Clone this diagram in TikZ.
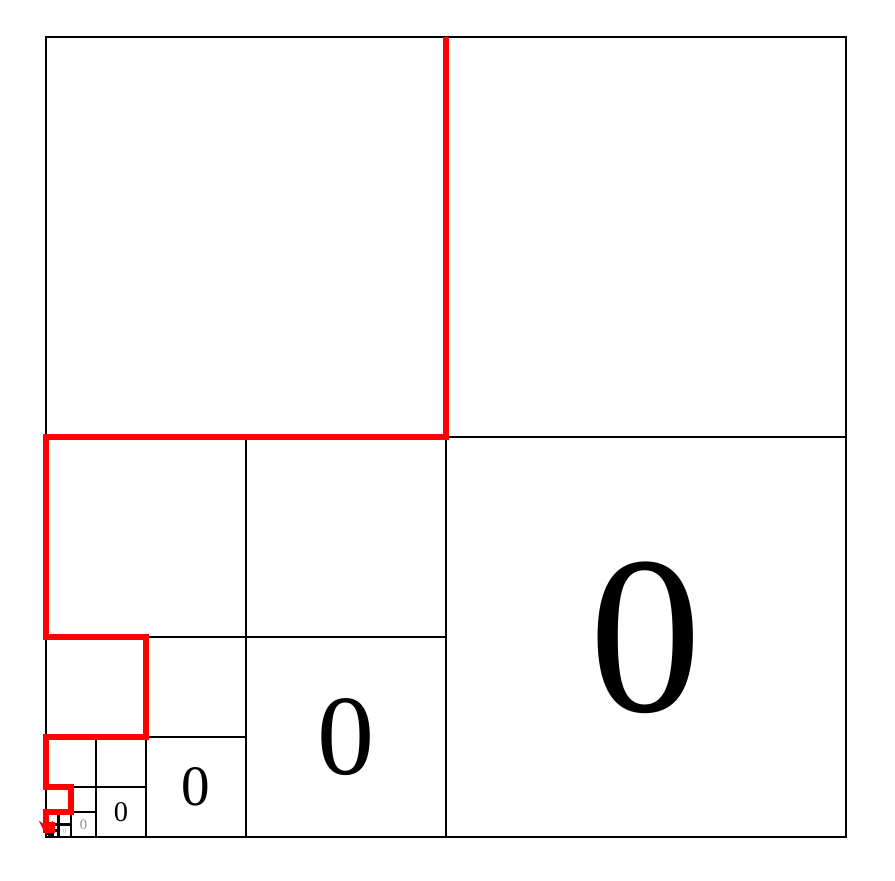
\documentclass[tikz,border=0pt]{standalone}
\usepackage{fontspec}
\setmainfont{Liberation Serif}
\usetikzlibrary{arrows.meta}
\begin{document}
\begin{tikzpicture}[
  grid/.style={draw=black, line width=0.8pt},
  zero/.style={inner sep=0pt},
  redpath/.style={draw=red, line width=1.45pt, line join=miter}
]
\useasboundingbox (-0.46,-0.43) rectangle (8.49,8.37);
% outer square
\draw[grid] (0,0) rectangle (8,8);
% recursive subdivision
\foreach \s in {8,4,2,1,0.5,0.25,0.125,0.0625} {
  \draw[grid] ({\s/2},0) -- ({\s/2},\s);
  \draw[grid] (0,{\s/2}) -- (\s,{\s/2});
}
% zeros
\node[zero, font=\fontsize{64}{64}\selectfont] (z0) at (6,1.99) {0};
\node[zero, font=\fontsize{32.5}{32.5}\selectfont] (z1) at (3,1) {0};
\node[zero, font=\fontsize{16.25}{16.25}\selectfont] (z2) at (1.5,0.5) {0};
\node[zero, font=\fontsize{8.1}{8.1}\selectfont] (z3) at (0.75,0.25) {0};
\node[zero, font=\fontsize{4.1}{4.1}\selectfont, text=black!45] (z4) at (0.375,0.125) {0};
\node[zero, font=\fontsize{2}{2}\selectfont, text=black!30] (z5) at (0.1875,0.0625) {0};
% red path
\draw[redpath, -{Stealth[length=4pt,width=4pt]}]
  (4,8) -- (4,4) -- (0,4) -- (0,2)
  -- (1,2) -- (1,1) -- (0,1) -- (0,0.5)
  -- (0.25,0.5) -- (0.25,0.25) -- (0,0.25) -- (0,0.125)
  -- (0.0625,0.125) -- (0.0625,0.0625) -- (0,0.0625) -- (0,0.02);
\end{tikzpicture}
\end{document}
